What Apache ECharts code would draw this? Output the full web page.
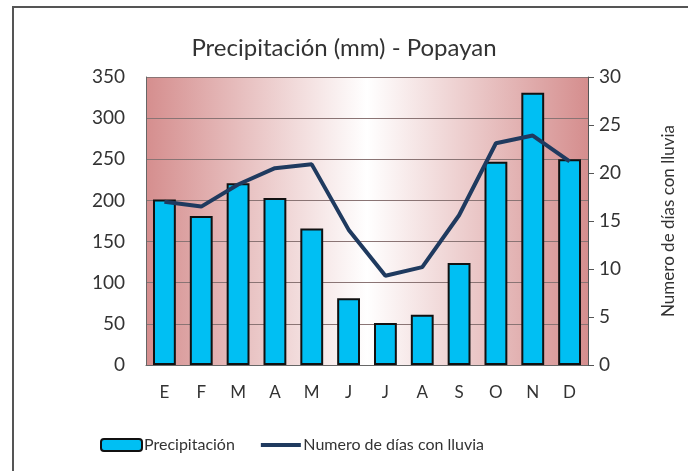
<!DOCTYPE html>
<html>
<head>
<meta charset="utf-8">
<script src="https://cdn.jsdelivr.net/npm/echarts@6/dist/echarts.min.js"></script>
<style>
  html, body { margin: 0; padding: 0; background: #fff; }
  #chart { width: 688px; height: 471px; }
</style>
</head>
<body>
<div id="chart"></div>
<script>
// meses
var months = ['E', 'F', 'M', 'A', 'M', 'J', 'J', 'A', 'S', 'O', 'N', 'D'];
// precipitación en mm
var precip = [201, 181, 221, 203, 166, 81, 51, 61, 124, 247, 331, 250];
// número de días con lluvia
var rainDays = [17.0, 16.5, 18.8, 20.5, 20.9, 14.1, 9.3, 10.2, 15.6, 23.1, 23.9, 21.2];

var fontFamily = 'Lato, "Open Sans", sans-serif';
var myChart = echarts.init(document.getElementById('chart'));

var option = {
  animation: false,
  title: {
    text: 'Precipitación (mm) - Popayan',
    left: 'center',
    top: 31,
    textStyle: { color: '#333', fontSize: 24, fontWeight: 'normal', fontFamily: fontFamily }
  },
  legend: {
    left: 95,
    top: 432,
    itemWidth: 41,
    itemHeight: 12,
    itemGap: 26,
    textStyle: { color: '#333', fontSize: 16, fontFamily: fontFamily, padding: [0, 0, 0, -3] },
    data: [
      { name: 'Precipitación' },
      // icono de línea sin símbolo
      { name: 'Numero de días con lluvia', icon: 'path://M0,0 L0,0 M0,4 L40,4 L40,8 L0,8 Z M0,12 L0,12' }
    ]
  },
  grid: {
    left: 146,
    right: 100,
    top: 77,
    bottom: 106,
    show: true,
    borderWidth: 0,
    backgroundColor: {
      type: 'linear', x: 0, y: 0, x2: 1, y2: 0,
      colorStops: [
        { offset: 0, color: '#d58e8e' },
        { offset: 0.5, color: '#ffffff' },
        { offset: 1, color: '#d58e8e' }
      ]
    }
  },
  graphic: [
    { type: 'line', shape: { x1: 12, y1: 7, x2: 688, y2: 7 }, style: { stroke: '#555', lineWidth: 2 } },
    { type: 'line', shape: { x1: 13, y1: 6, x2: 13, y2: 471 }, style: { stroke: '#555', lineWidth: 2 } }
  ],
  xAxis: {
    type: 'category',
    data: months,
    axisLine: { lineStyle: { color: '#666', width: 1 } },
    axisTick: { show: false },
    axisLabel: { color: '#333', fontSize: 17, fontFamily: fontFamily, margin: 19 }
  },
  yAxis: [
    {
      type: 'value',
      min: 0,
      max: 350,
      interval: 50,
      axisLine: { show: true, lineStyle: { color: '#666' } },
      axisTick: { show: false },
      axisLabel: { color: '#333', fontSize: 19, fontFamily: fontFamily, margin: 21 },
      splitLine: { lineStyle: { color: '#8a7474', width: 1 } }
    },
    {
      type: 'value',
      min: 0,
      max: 30,
      interval: 5,
      position: 'right',
      name: 'Numero de días con lluvia',
      nameLocation: 'middle',
      nameGap: 72,
      nameRotate: 90,
      nameTextStyle: { color: '#333', fontSize: 17, fontFamily: fontFamily },
      axisLine: { show: true, lineStyle: { color: '#555' } },
      axisTick: { show: true, length: 6, lineStyle: { color: '#555' } },
      axisLabel: { color: '#333', fontSize: 19, fontFamily: fontFamily, margin: 11 },
      splitLine: { show: false }
    }
  ],
  series: [
    {
      name: 'Precipitación',
      type: 'bar',
      barWidth: '62%',
      data: precip,
      itemStyle: { color: '#00bff3', borderColor: '#111', borderWidth: 2 }
    },
    {
      name: 'Numero de días con lluvia',
      type: 'line',
      yAxisIndex: 1,
      data: rainDays,
      symbol: 'none',
      lineStyle: { color: '#1f3a5f', width: 4 },
      itemStyle: { color: '#1f3a5f' }
    }
  ]
};

myChart.setOption(option);
window.addEventListener('resize', function () {
  myChart.resize();
});
</script>
</body>
</html>
